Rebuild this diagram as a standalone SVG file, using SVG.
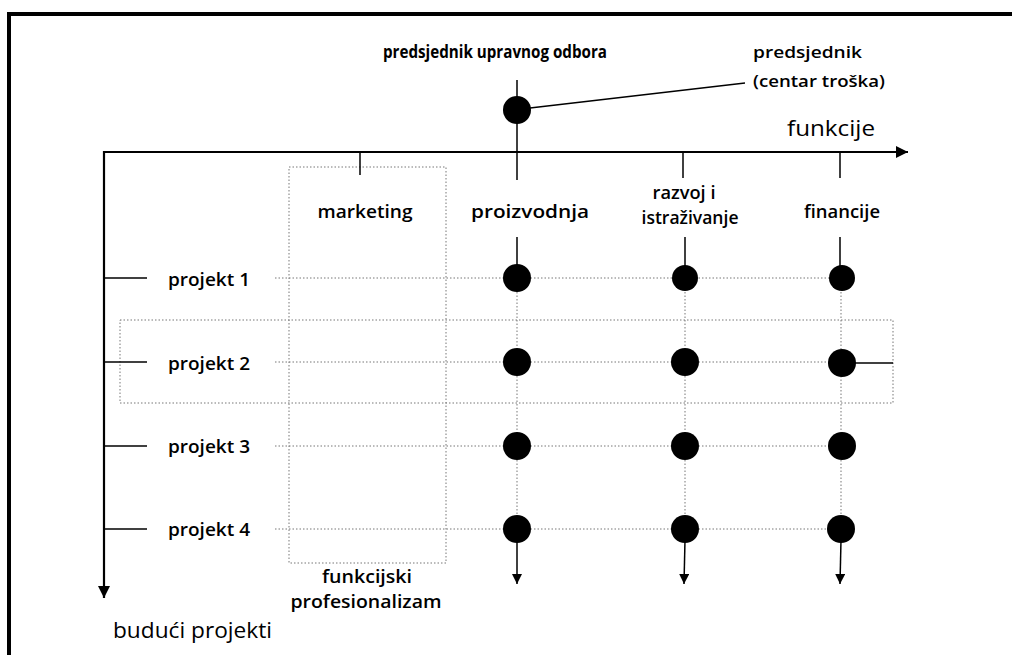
<svg xmlns="http://www.w3.org/2000/svg" width="1012" height="655" viewBox="0 0 1012 655">
<defs>
<style>
.t{font-family:"Open Sans","Noto Sans",sans-serif;font-weight:600;font-size:18.5px;fill:#000}
.h{font-family:"Open Sans","Noto Sans",sans-serif;font-weight:700;font-size:18px;fill:#000}
.m{font-family:"Open Sans","Noto Sans",sans-serif;font-weight:600;font-size:17px;fill:#000}
.r{font-family:"Open Sans","Noto Sans",sans-serif;font-weight:500;font-size:22px;fill:#000}
.ln{stroke:#000;stroke-width:1.5;fill:none}
.ax{stroke:#000;stroke-width:2.2;fill:none}
.dot{stroke:#777;stroke-width:1;stroke-dasharray:1.5 2;fill:none}
.nd{fill:#000}
</style>
<marker id="ah" viewBox="0 0 10 10" refX="10" refY="5" markerWidth="13" markerHeight="10" markerUnits="userSpaceOnUse" orient="auto">
<path d="M0,0 L10,5 L0,10 z" fill="#000"/>
</marker>
<marker id="ahb" viewBox="0 0 10 10" refX="10" refY="5" markerWidth="15" markerHeight="12" markerUnits="userSpaceOnUse" orient="auto">
<path d="M0,0 L10,5 L0,10 z" fill="#000"/>
</marker>
</defs>
<rect width="1012" height="655" fill="#fff"/>
<!-- frame -->
<path d="M9,655 V14 H1012" stroke="#000" stroke-width="4" fill="none"/>

<g id="grid">
<rect class="dot" x="289" y="167" width="157" height="396"/>
<rect class="dot" x="120" y="320" width="773" height="83"/>
<line class="dot" x1="275" y1="278" x2="841" y2="278"/>
<line class="dot" x1="275" y1="362" x2="841" y2="362"/>
<line class="dot" x1="275" y1="446" x2="841" y2="446"/>
<line class="dot" x1="275" y1="529" x2="841" y2="529"/>
<line class="dot" x1="517" y1="278" x2="517" y2="529"/>
<line class="dot" x1="685" y1="278" x2="685" y2="529"/>
<line class="dot" x1="841" y1="278" x2="841" y2="529"/>
</g>

<g id="connectors">
<line class="ax" x1="103" y1="152" x2="908" y2="152" marker-end="url(#ahb)"/>
<line class="ax" x1="104" y1="151" x2="104" y2="598" marker-end="url(#ahb)"/>
<line class="ln" x1="360" y1="152" x2="360" y2="175"/>
<line class="ln" x1="517" y1="80" x2="517" y2="180"/>
<line class="ln" x1="683" y1="152" x2="683" y2="178"/>
<line class="ln" x1="840" y1="152" x2="840" y2="178"/>
<line class="ln" x1="530" y1="108" x2="745" y2="83"/>
<line class="ln" x1="517" y1="237" x2="517" y2="266"/>
<line class="ln" x1="685" y1="237" x2="685" y2="266"/>
<line class="ln" x1="840" y1="237" x2="840" y2="266"/>
<line class="ln" x1="104" y1="278" x2="147" y2="278"/>
<line class="ln" x1="104" y1="362" x2="147" y2="362"/>
<line class="ln" x1="104" y1="446" x2="147" y2="446"/>
<line class="ln" x1="104" y1="529" x2="147" y2="529"/>
<line class="ln" x1="855" y1="363" x2="893" y2="363"/>
<line class="ln" x1="517" y1="540" x2="517" y2="584" marker-end="url(#ah)"/>
<line class="ln" x1="685" y1="540" x2="684" y2="584" marker-end="url(#ah)"/>
<line class="ln" x1="841" y1="540" x2="840" y2="584" marker-end="url(#ah)"/>
</g>

<g id="node-president">
<circle class="nd" cx="517" cy="110" r="14"/>
<text class="h" x="495" y="58" text-anchor="middle" textLength="224" lengthAdjust="spacingAndGlyphs">predsjednik upravnog odbora</text>
</g>
<g id="node-president-cost">
<text class="m" x="753" y="58" textLength="109" lengthAdjust="spacingAndGlyphs">predsjednik</text>
<text class="m" x="753" y="87" textLength="132" lengthAdjust="spacingAndGlyphs">(centar troška)</text>
</g>
<g id="label-funkcije"><text class="r" x="787" y="136" textLength="88" lengthAdjust="spacingAndGlyphs">funkcije</text></g>
<g id="label-buduci"><text class="r" x="113" y="638" textLength="159" lengthAdjust="spacingAndGlyphs">budući projekti</text></g>

<g id="col-marketing"><text class="t" x="365" y="218" text-anchor="middle" textLength="95" lengthAdjust="spacingAndGlyphs">marketing</text></g>
<g id="col-proizvodnja"><text class="t" x="530" y="218" text-anchor="middle" textLength="118" lengthAdjust="spacingAndGlyphs">proizvodnja</text></g>
<g id="col-razvoj">
<text class="t" x="684" y="199" text-anchor="middle" textLength="63" lengthAdjust="spacingAndGlyphs">razvoj i</text>
<text class="t" x="690" y="224" text-anchor="middle" textLength="97" lengthAdjust="spacingAndGlyphs">istraživanje</text>
</g>
<g id="col-financije"><text class="t" x="842" y="218" text-anchor="middle" textLength="76" lengthAdjust="spacingAndGlyphs">financije</text></g>

<g id="row-1"><text class="t" x="168" y="286" textLength="82" lengthAdjust="spacingAndGlyphs">projekt 1</text></g>
<g id="row-2"><text class="t" x="168" y="370" textLength="82" lengthAdjust="spacingAndGlyphs">projekt 2</text></g>
<g id="row-3"><text class="t" x="168" y="453" textLength="82" lengthAdjust="spacingAndGlyphs">projekt 3</text></g>
<g id="row-4"><text class="t" x="168" y="536" textLength="82" lengthAdjust="spacingAndGlyphs">projekt 4</text></g>

<g id="label-funkcijski">
<text class="t" x="367" y="583" text-anchor="middle" textLength="90" lengthAdjust="spacingAndGlyphs">funkcijski</text>
<text class="t" x="366" y="608" text-anchor="middle" textLength="151" lengthAdjust="spacingAndGlyphs">profesionalizam</text>
</g>

<g id="nodes">
<circle class="nd" cx="517" cy="278" r="14"/>
<circle class="nd" cx="685" cy="278" r="13"/>
<circle class="nd" cx="842" cy="278" r="13"/>
<circle class="nd" cx="517" cy="362" r="14"/>
<circle class="nd" cx="685" cy="362" r="14"/>
<circle class="nd" cx="842" cy="363" r="14"/>
<circle class="nd" cx="517" cy="446" r="14"/>
<circle class="nd" cx="685" cy="446" r="14"/>
<circle class="nd" cx="842" cy="446" r="14"/>
<circle class="nd" cx="517" cy="529" r="14"/>
<circle class="nd" cx="685" cy="529" r="14"/>
<circle class="nd" cx="841" cy="529" r="14"/>
</g>
</svg>
